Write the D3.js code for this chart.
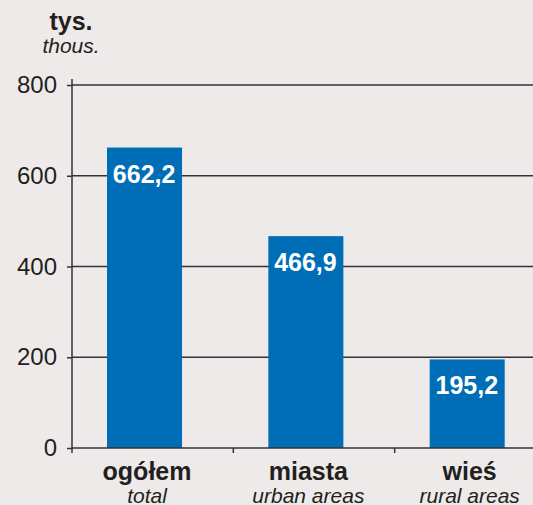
<!DOCTYPE html>
<meta charset="utf-8">
<style>
body { margin: 0; background: #eeeae9; }
svg { display: block; font-family: "Liberation Sans", Arial, sans-serif; }
.grid line { stroke: #333; stroke-width: 1.5; }
</style>
<body>
<svg width="533" height="505"></svg>
<script src="https://cdnjs.cloudflare.com/ajax/libs/d3/7.8.5/d3.min.js"></script>
<script>

var categories = ["ogółem", "miasta", "wieś"];
var categoriesEn = ["total", "urban areas", "rural areas"];
var values = [662.2, 466.9, 195.2];
var yTicks = [0, 200, 400, 600, 800];

var svg = d3.select("svg"),
    width = +svg.attr("width");

var x = d3.scaleBand()
    .domain(categories)
    .range([72, 556]);

var y = d3.scaleLinear()
    .domain([0, 800])
    .range([448, 85]);

var fmt = function(v) { return v.toFixed(1).replace(".", ","); };

// gridlines
svg.append("g")
    .attr("class", "grid")
    .selectAll("line")
    .data(yTicks.slice(1))
    .enter().append("line")
      .attr("x1", 72)
      .attr("x2", width)
      .attr("y1", function(d) { return y(d); })
      .attr("y2", function(d) { return y(d); });

// bars
var bw = x.bandwidth();
svg.append("g")
    .selectAll("rect")
    .data(values)
    .enter().append("rect")
      .attr("x", function(d, i) { return x(categories[i]) + bw * 0.217; })
      .attr("width", bw * 0.465)
      .attr("y", function(d) { return y(d); })
      .attr("height", function(d) { return y(0) - y(d); })
      .attr("fill", "#006eb6");

// value labels
svg.append("g")
    .selectAll("text")
    .data(values)
    .enter().append("text")
      .attr("x", function(d, i) { return x(categories[i]) + bw * 0.447; })
      .attr("y", function(d) { return y(d) + 35; })
      .attr("text-anchor", "middle")
      .attr("fill", "#fff")
      .attr("font-weight", "bold")
      .attr("font-size", 25)
      .text(fmt);

// y axis
var yAxis = svg.append("g")
    .attr("transform", "translate(72,0)")
    .call(d3.axisLeft(y).tickValues(yTicks).tickSize(5).tickPadding(10));
yAxis.select(".domain").attr("stroke", "#333").attr("stroke-width", 1.5)
    .attr("d", "M0," + (y(800) - 6) + "V" + (y(0) + 1));
yAxis.selectAll(".tick line").attr("stroke", "#333").attr("stroke-width", 1.5);
yAxis.selectAll(".tick text")
    .attr("font-size", 24)
    .attr("fill", "#231f20")
    .attr("font-family", "Liberation Sans, Arial, sans-serif");

// x axis line
svg.append("line")
    .attr("x1", 72).attr("x2", width)
    .attr("y1", y(0)).attr("y2", y(0))
    .attr("stroke", "#333").attr("stroke-width", 1.5);

// x ticks at band boundaries
svg.append("g")
    .selectAll("line")
    .data(categories)
    .enter().append("line")
      .attr("x1", function(d) { return x(d); })
      .attr("x2", function(d) { return x(d); })
      .attr("y1", y(0))
      .attr("y2", y(0) + 5)
      .attr("stroke", "#333").attr("stroke-width", 1.5);

// category labels
var cat = svg.append("g")
    .selectAll("g")
    .data(categories)
    .enter().append("g");
cat.append("text")
    .attr("x", function(d) { return x(d) + bw * 0.465; })
    .attr("y", 480)
    .attr("text-anchor", "middle")
    .attr("font-weight", "bold")
    .attr("font-size", 25)
    .attr("fill", "#231f20")
    .text(function(d) { return d; });
cat.append("text")
    .attr("x", function(d) { return x(d) + bw * 0.465; })
    .attr("y", 503)
    .attr("text-anchor", "middle")
    .attr("font-style", "italic")
    .attr("font-size", 21)
    .attr("fill", "#231f20")
    .text(function(d, i) { return categoriesEn[i]; });

// unit
svg.append("text")
    .attr("x", 71).attr("y", 30)
    .attr("text-anchor", "middle")
    .attr("font-weight", "bold")
    .attr("font-size", 25)
    .attr("fill", "#231f20")
    .text("tys.");
svg.append("text")
    .attr("x", 71).attr("y", 53)
    .attr("text-anchor", "middle")
    .attr("font-style", "italic")
    .attr("font-size", 21)
    .attr("fill", "#231f20")
    .text("thous.");

</script>
</body>
